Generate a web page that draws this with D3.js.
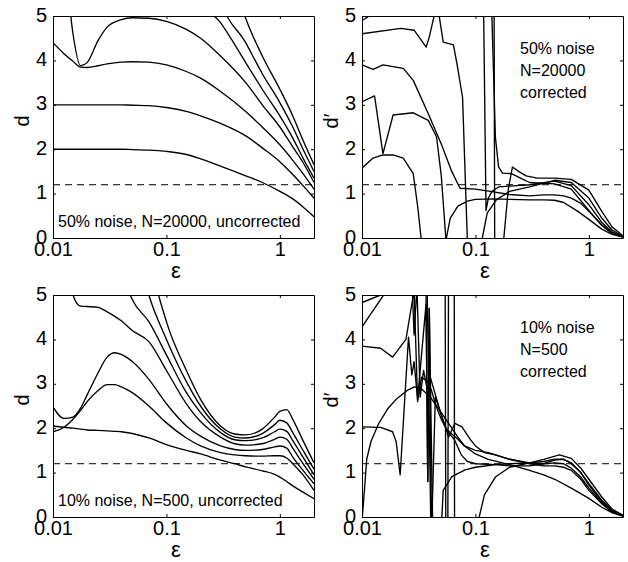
<!DOCTYPE html>
<html><head><meta charset="utf-8">
<script src="https://cdn.jsdelivr.net/npm/d3@7/dist/d3.min.js"></script>
<style>
body{margin:0;background:#fff;}
svg text{font-family:"Liberation Sans",Arial,Helvetica,sans-serif;fill:#000;}
</style></head><body>
<svg id="chart" width="628" height="562"></svg>
<script>
// ---------- axes / labels ----------
const xTicks = [0.01, 0.1, 1];
const xTickLabels = ["0.01", "0.1", "1"];
const yTicks = [0, 1, 2, 3, 4, 5];
const threshold = 1.2;
const panelTitles = [
  ["50% noise, N=20000, uncorrected"],
  ["50% noise", "N=20000", "corrected"],
  ["10% noise, N=500, uncorrected"],
  ["10% noise", "N=500", "corrected"]
];
const yLabels = ["d", "d\u2032", "d", "d\u2032"];

// ---------- top-left: 50% noise, N=20000, uncorrected ----------
const tlEps = [0.01,0.0125,0.015,0.0175,0.02,0.025,0.03,0.04,0.05,0.07,0.1,0.15,0.2,0.3,0.5,0.7,1,1.3,1.6,2];
const tlCurves = [
  [2.0,2.0,2.0,2.0,2.0,2.0,2.0,2.0,1.99,1.98,1.95,1.88,1.78,1.62,1.4,1.25,1.05,0.88,0.7,0.48],
  [3.0,3.0,3.0,3.0,3.0,3.0,3.0,3.0,2.99,2.98,2.94,2.85,2.75,2.58,2.3,2.03,1.72,1.43,1.18,0.9],
  [4.4,4.15,3.98,3.85,3.84,3.88,3.92,3.96,3.97,3.96,3.9,3.75,3.6,3.3,2.85,2.5,2.1,1.75,1.45,1.1],
  [8,6.5,4.6,3.88,3.95,4.45,4.75,4.92,4.96,4.95,4.88,4.7,4.5,4.1,3.5,3.0,2.5,2.05,1.7,1.25],
  [9,9,9,9,9,9,9,9,9,9,9,7,5.4,4.85,3.95,3.35,2.75,2.25,1.8,1.35],
  [9,9,9,9,9,9,9,9,9,9,9,9,8,5.4,4.4,3.7,3.05,2.5,2.0,1.5],
  [9,9,9,9,9,9,9,9,9,9,9,9,9,7,4.95,4.1,3.35,2.75,2.2,1.65]
];

// ---------- bottom-left: 10% noise, N=500, uncorrected ----------
const blEps = [0.01,0.0125,0.015,0.0175,0.02,0.025,0.03,0.035,0.04,0.05,0.07,0.1,0.15,0.2,0.3,0.4,0.5,0.7,0.9,1,1.15,1.3,1.6,2];
const blCurves = [
  [2.05,2.02,2.0,1.98,1.96,1.95,1.94,1.93,1.92,1.88,1.78,1.63,1.5,1.42,1.28,1.2,1.13,1.04,0.96,0.9,0.8,0.7,0.56,0.41],
  [1.92,2.02,2.2,2.4,2.6,2.85,2.98,2.98,2.93,2.8,2.5,2.12,1.78,1.6,1.45,1.4,1.38,1.37,1.38,1.38,1.33,1.2,0.95,0.6],
  [2.48,2.22,2.25,2.45,2.75,3.25,3.6,3.7,3.66,3.5,3.1,2.55,2.05,1.82,1.6,1.52,1.5,1.52,1.58,1.6,1.55,1.35,1.05,0.75],
  [9,6.2,5.0,4.75,4.74,4.72,4.62,4.52,4.42,4.2,3.95,3.3,2.55,2.15,1.8,1.65,1.62,1.65,1.75,1.8,1.75,1.55,1.2,0.85],
  [9,9,9,9,9,9,9,9,5.6,4.9,4.4,3.65,2.8,2.35,1.9,1.74,1.72,1.78,1.92,1.98,1.93,1.72,1.35,0.95],
  [9,9,9,9,9,9,9,9,9,6.5,5.0,4.0,3.05,2.5,1.98,1.8,1.78,1.88,2.08,2.18,2.12,1.9,1.5,1.08],
  [9,9,9,9,9,9,9,9,9,9,6.0,4.4,3.3,2.65,2.05,1.87,1.85,1.98,2.25,2.38,2.42,2.2,1.72,1.22]
];

// ---------- top-right: 50% noise, N=20000, corrected ([eps, d']) ----------
const trA1 = [[0.01,4.97],[0.011,5.08],[0.02,6],[0.11,6],[0.118,5.2],[0.124,0.62],[0.13,0.9],[0.14,1.05],[0.16,1.15],[0.2,1.17],[0.3,1.2],[0.5,1.28],[0.7,1.18],[1,0.75],[1.3,0.35],[1.6,0.14],[2,0.03]];
const trA2 = [[0.01,4.9],[0.0125,5.05],[0.02,6],[0.13,6],[0.139,5.2],[0.15,2.27],[0.16,1.6],[0.173,1.46],[0.208,1.45],[0.25,1.35],[0.3,1.25],[0.5,1.22],[0.7,1.1],[1,0.62],[1.3,0.28],[1.6,0.1],[2,0.02]];
const trB = [[0.01,4.6],[0.022,4.72],[0.0288,4.68],[0.0368,4.3],[0.0392,4.53],[0.046,5.3],[0.052,4.41],[0.064,4.35],[0.069,3.9],[0.077,3.17],[0.085,-0.1],[0.1,-0.4],[0.115,0],[0.127,0.56],[0.153,0.86],[0.2,1.05],[0.3,1.15],[0.5,1.3],[0.7,1.25],[1,0.9],[1.3,0.45],[1.6,0.18],[2,0.04]];
const trC = [[0.01,3.9],[0.0125,3.8],[0.0153,3.9],[0.0231,3.82],[0.0283,3.55],[0.0384,2.8],[0.0503,2.1],[0.0618,1.5],[0.0731,1.12],[0.1,1.1],[0.135,1.05],[0.2,0.98],[0.3,0.95],[0.4,0.97],[0.5,0.97],[0.6,0.95],[0.7,0.9],[0.85,0.78],[1,0.6],[1.3,0.3],[1.6,0.12],[2,0.03]];
const trD = [[0.01,3.07],[0.0129,3.2],[0.0153,1.9],[0.0188,2.77],[0.0283,2.82],[0.0384,2.65],[0.0454,2.28],[0.05,1.4],[0.055,-0.05],[0.06,0.45],[0.07,0.72],[0.085,0.83],[0.1,0.87],[0.15,0.88],[0.2,0.87],[0.3,0.86],[0.4,0.86],[0.5,0.85],[0.6,0.8],[0.8,0.6],[1,0.42],[1.3,0.2],[1.6,0.08],[2,0.02]];
const trE = [[0.01,1.57],[0.0125,1.8],[0.0153,1.87],[0.0188,1.87],[0.0231,1.8],[0.0283,1.45],[0.031,0.7],[0.0335,-0.1]];
const trF = [[0.01,8],[0.14,8],[0.146,5.5],[0.148,-0.5],[0.17,-0.5],[0.178,0],[0.195,1.1],[0.212,1.6],[0.24,1.5],[0.28,1.4],[0.35,1.35],[0.5,1.35],[0.7,1.32],[1,1.08],[1.3,0.6],[1.6,0.25],[2,0.05]];

// ---------- bottom-right: 10% noise, N=500, corrected ([eps, d']) ----------
const brP1 = [[0.01,4.83],[0.0146,5.0],[0.02,6],[0.036,6],[0.0375,5.2],[0.0405,-0.3],[0.048,-0.3],[0.0506,0],[0.052,0.6],[0.062,0.91],[0.081,1.06],[0.1,1.12],[0.15,1.18],[0.2,1.2],[0.3,1.22],[0.4,1.25],[0.5,1.3],[0.6,1.3],[0.7,1.2],[0.85,1.0],[1,0.75],[1.3,0.38],[1.6,0.15],[2,0.03]];
const brP2 = [[0.01,4.28],[0.0155,5.0],[0.02,6],[0.054,6],[0.0549,-1],[0.057,-1],[0.058,6],[0.065,6],[0.0655,-1],[0.1,-1],[0.105,-0.3],[0.108,0],[0.12,0.5],[0.15,0.9],[0.2,1.12],[0.3,1.22],[0.4,1.3],[0.55,1.4],[0.7,1.32],[0.85,1.1],[1,0.85],[1.3,0.45],[1.6,0.18],[2,0.04]];
const brP3 = [[0.01,3.85],[0.0146,3.8],[0.0186,3.6],[0.0244,4.0],[0.0288,5.1],[0.0309,2.6],[0.0335,3.15],[0.038,3.05],[0.041,2.85],[0.045,2.5],[0.05,2.2],[0.055,2.0],[0.06,1.85],[0.065,1.75],[0.075,1.4],[0.085,1.25],[0.1,1.2],[0.15,1.18],[0.2,1.15],[0.3,1.15],[0.4,1.2],[0.5,1.28],[0.6,1.3],[0.7,1.22],[0.85,1.0],[1,0.72],[1.3,0.35],[1.6,0.14],[2,0.03]];
const brP4 = [[0.01,2.03],[0.0146,2.02],[0.0186,1.92],[0.02,1.7],[0.0217,0.95],[0.0257,4.05],[0.0275,3.2],[0.0288,3.5],[0.0309,2.65],[0.0367,4.8],[0.038,0.8],[0.0392,4.7],[0.0408,-0.1],[0.0414,0],[0.0443,2.7],[0.05,2.3],[0.055,2.0],[0.06,1.9],[0.07,1.75],[0.08,1.6],[0.1,1.5],[0.13,1.45],[0.2,1.3],[0.3,1.22],[0.4,1.2],[0.5,1.22],[0.6,1.2],[0.7,1.1],[0.85,0.9],[1,0.65],[1.3,0.32],[1.6,0.12],[2,0.03]];
const brP5 = [[0.01,-0.1],[0.0105,0.6],[0.011,1.3],[0.012,1.7],[0.014,2.1],[0.017,2.45],[0.02,2.65],[0.025,2.85],[0.029,2.93],[0.033,2.9],[0.04,2.7],[0.05,2.35],[0.06,2.05],[0.07,1.8],[0.08,1.6],[0.1,1.42],[0.13,1.3],[0.2,1.18],[0.3,1.05],[0.4,0.95],[0.5,0.85],[0.7,0.65],[1,0.42],[1.3,0.22],[1.6,0.1],[2,0.02]];
const brP6 = [[0.01,8],[0.026,8],[0.0275,5.4],[0.0288,4.1],[0.0305,5.2],[0.0326,2.7],[0.0349,3.3],[0.0374,2.9],[0.04,3.15],[0.045,2.7],[0.05,2.3],[0.058,1.8],[0.066,2.11],[0.076,2.03],[0.09,1.75],[0.1,1.6],[0.12,1.45],[0.15,1.4],[0.2,1.3],[0.3,1.2],[0.4,1.15],[0.5,1.15],[0.6,1.12],[0.7,1.05],[0.85,0.85],[1,0.6],[1.3,0.3],[1.6,0.11],[2,0.02]];
const brP7 = [[0.01,8],[0.034,8],[0.0367,4.96],[0.038,0.8],[0.0392,4.7],[0.042,-0.2]];

// ---------- drawing ----------
const W = 261, H = 222;
const panelPos = [[53,16],[362,16],[53,295],[362,295]];
const x = d3.scaleLog().domain([0.01, 2]).range([0, W]);
const y = d3.scaleLinear().domain([0, 5]).range([H, 0]);
const svg = d3.select("#chart");

const toPts = (eps, vals) => eps.map((e, i) => [e, vals[i]]);
const panelData = [
  {curves: tlCurves.map(v => toPts(tlEps, v)), smooth: true},
  {curves: [trA1, trA2, trB, trC, trD, trE, trF], smooth: false},
  {curves: blCurves.map(v => toPts(blEps, v)), smooth: true},
  {curves: [brP1, brP2, brP3, brP4, brP5, brP6, brP7], smooth: false}
];

panelData.forEach((p, i) => {
  const [left, top] = panelPos[i];
  const g = svg.append("g").attr("transform", `translate(${left},${top})`);
  const cid = "clip" + i;
  g.append("clipPath").attr("id", cid).append("rect").attr("width", W).attr("height", H);

  const line = d3.line().x(d => x(d[0])).y(d => y(d[1]))
    .curve(p.smooth ? d3.curveMonotoneX : d3.curveLinear);
  const cg = g.append("g").attr("clip-path", `url(#${cid})`);
  cg.selectAll("path.curve").data(p.curves).join("path")
    .attr("class", "curve").attr("d", line)
    .attr("fill", "none").attr("stroke", "#000").attr("stroke-width", 1.35)
    .attr("stroke-linejoin", "round");
  cg.append("line").attr("x1", 0).attr("x2", W)
    .attr("y1", y(threshold)).attr("y2", y(threshold))
    .attr("stroke", "#000").attr("stroke-width", 1).attr("stroke-dasharray", "7,5");

  // axes with inward ticks
  const fs = 20;
  const ax = g.append("g").attr("transform", `translate(0,${H})`)
    .call(d3.axisBottom(x).tickValues(xTicks).tickFormat((d, k) => xTickLabels[k])
      .tickSizeInner(-3).tickSizeOuter(0).tickPadding(4));
  const ay = g.append("g")
    .call(d3.axisLeft(y).tickValues(yTicks).tickFormat(d3.format("d"))
      .tickSizeInner(-3).tickSizeOuter(0).tickPadding(6));
  const at = g.append("g")
    .call(d3.axisTop(x).tickValues(xTicks).tickFormat("").tickSizeInner(-3).tickSizeOuter(0));
  const ar = g.append("g").attr("transform", `translate(${W},0)`)
    .call(d3.axisRight(y).tickValues(yTicks).tickFormat("").tickSizeInner(-3).tickSizeOuter(0));
  [ax, ay, at, ar].forEach(a => {
    a.selectAll("text").attr("font-size", fs).attr("font-family", null).attr("fill", "#000");
    a.selectAll("path,line").attr("stroke", "#000");
  });
  ay.selectAll("text").attr("dy", "0.25em");

  // axis titles
  g.append("text").attr("x", 123).attr("y", H + 40).attr("text-anchor", "middle")
    .attr("font-size", 22).text("\u03b5");
  g.append("text").attr("transform", `translate(${-31},${H / 2 - 6}) rotate(-90)`)
    .attr("text-anchor", "middle").attr("dy", "0.35em").attr("font-size", 20).text(yLabels[i]);

  // annotation
  const lines = panelTitles[i];
  if (lines.length === 1) {
    g.append("text").attr("x", 5).attr("y", 211).attr("font-size", 16).text(lines[0]);
  } else {
    lines.forEach((t, k) => g.append("text").attr("x", 158).attr("y", 38 + 22 * k)
      .attr("font-size", 16).text(t));
  }
});
</script>
</body></html>
